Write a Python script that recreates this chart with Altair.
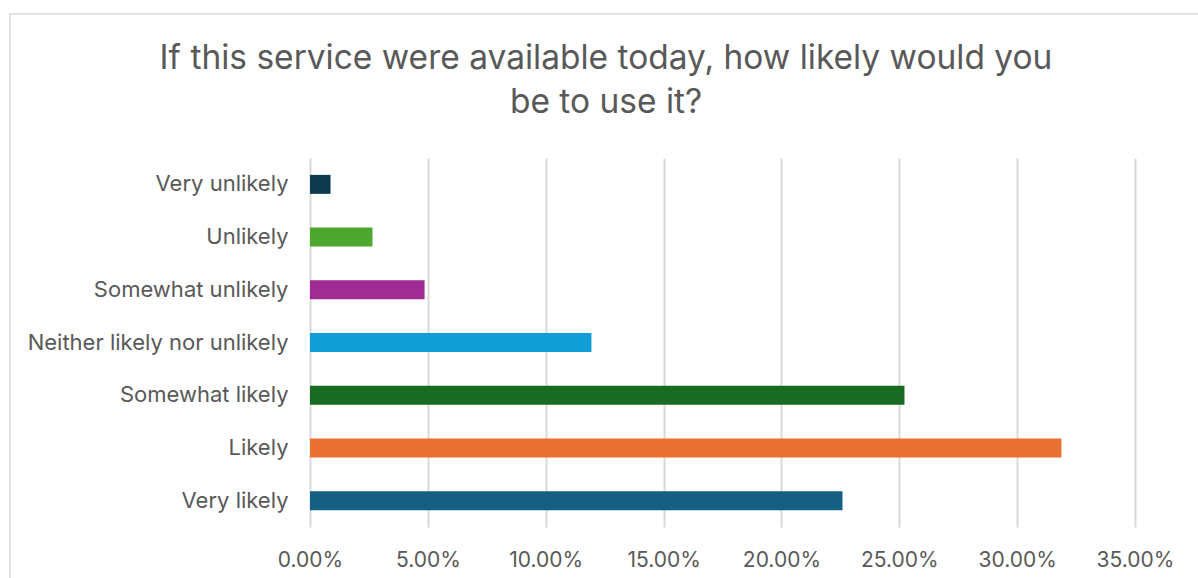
import altair as alt
import pandas as pd

categories = ["Very unlikely", "Unlikely", "Somewhat unlikely", "Neither likely nor unlikely",
              "Somewhat likely", "Likely", "Very likely"]
values = [0.0087, 0.0265, 0.0486, 0.1194, 0.2522, 0.3188, 0.2259]
colors = ["#0E3A4F", "#4EA72E", "#A02B93", "#0F9ED5", "#196B24", "#E97132", "#156082"]
x_ticks = [0, 0.05, 0.10, 0.15, 0.20, 0.25, 0.30, 0.35]
title_lines = ["If this service were available today, how likely would you", "be to use it?"]

FONT = "Inter"
GREY = "#595959"

df = pd.DataFrame({"category": categories, "value": values})

bars = alt.Chart(df).mark_bar().encode(
    y=alt.Y("category:N", sort=categories, title=None,
            scale=alt.Scale(paddingInner=0.64, paddingOuter=0.32),
            axis=alt.Axis(domain=False, ticks=False, grid=False, labelFontSize=22,
                          labelColor=GREY, labelFont=FONT, labelPadding=22, labelLimit=400)),
    x=alt.X("value:Q", title=None, scale=alt.Scale(domain=[0, 0.35], nice=False),
            axis=alt.Axis(values=x_ticks, format=".2%", domain=False, ticks=False,
                          grid=True, gridColor="#D9D9D9", gridWidth=2,
                          labelFontSize=21, labelColor=GREY, labelFont=FONT,
                          labelPadding=22, labelFlush=False, labelOverlap=False,
                          labelBound=False)),
    color=alt.Color("category:N", sort=categories,
                    scale=alt.Scale(domain=categories, range=colors), legend=None),
)

one = pd.DataFrame({"a": [0]})

border = alt.Chart(one).mark_rect(
    fill=None, stroke="#D9D9D9", strokeWidth=1.5
).encode(
    x=alt.value(-300), x2=alt.value(900), y=alt.value(-144), y2=alt.value(440)
)

title1 = alt.Chart(one).mark_text(
    font=FONT, fontSize=33.5, color=GREY, align="center", baseline="alphabetic"
).encode(text=alt.value(title_lines[0]), x=alt.value(296), y=alt.value(-89))

title2 = alt.Chart(one).mark_text(
    font=FONT, fontSize=33.5, color=GREY, align="center", baseline="alphabetic"
).encode(text=alt.value(title_lines[1]), x=alt.value(296), y=alt.value(-45))

chart = alt.layer(border, bars, title1, title2).properties(
    width=825, height=369,
    background="white",
    autosize=alt.AutoSizeParams(type="none"),
    padding={"left": 310, "top": 158, "right": 63, "bottom": 51},
).configure_view(strokeWidth=0, stroke=None)

chart.save("out.html", embed_options={"renderer": "svg", "actions": False})
